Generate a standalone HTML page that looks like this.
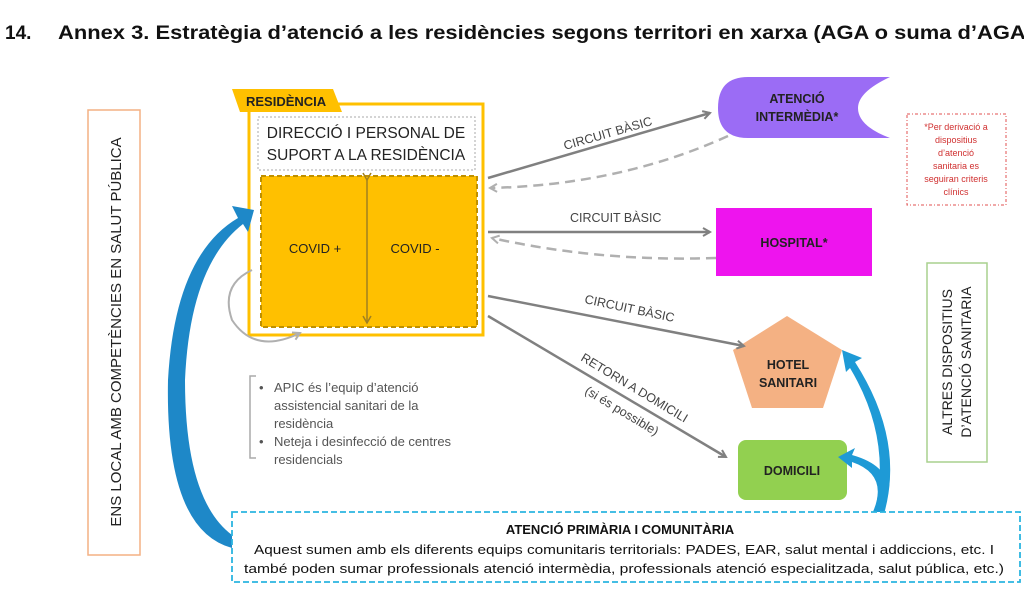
<!DOCTYPE html>
<html><head><meta charset="utf-8"><style>
html,body{margin:0;padding:0;background:#fff;}
svg{display:block;font-family:"Liberation Sans",sans-serif;}
.c{font-family:"Liberation Sans",sans-serif;}
</style></head><body>
<svg width="1024" height="606" viewBox="0 0 1024 606" xmlns="http://www.w3.org/2000/svg">
<defs>
<marker id="ag" markerWidth="10" markerHeight="10" refX="8" refY="5" orient="auto" markerUnits="userSpaceOnUse"><path d="M1,1 L8,5 L1,9" fill="none" stroke="#808080" stroke-width="2"/></marker>
<marker id="al" markerWidth="10" markerHeight="10" refX="8" refY="5" orient="auto" markerUnits="userSpaceOnUse"><path d="M1,1 L8,5 L1,9" fill="none" stroke="#b0b0b0" stroke-width="2"/></marker>
<marker id="ad" markerWidth="10" markerHeight="10" refX="8" refY="5" orient="auto" markerUnits="userSpaceOnUse"><path d="M1,1 L8,5 L1,9" fill="none" stroke="#a08020" stroke-width="1.5"/></marker>
</defs>
<text x="5" y="39" font-size="19" font-weight="bold" fill="#111">14.</text>
<text x="58" y="39" font-size="19" font-weight="bold" fill="#111" textLength="975" lengthAdjust="spacingAndGlyphs">Annex 3. Estratègia d’atenció a les residències segons territori en xarxa (AGA o suma d’AGA)</text>

<!-- left vertical box -->
<rect x="88" y="110" width="52" height="445" fill="#fff" stroke="#F4B183" stroke-width="1.5"/>
<text transform="translate(121,332) rotate(-90)" text-anchor="middle" font-size="15" fill="#222">ENS LOCAL AMB COMPETÈNCIES EN SALUT PÚBLICA</text>

<!-- residencia -->
<rect x="249" y="104" width="234" height="231" fill="#fff" stroke="#FFC000" stroke-width="3"/>
<polygon points="232,89 333,89 342,112 240,112" fill="#FFC000"/>
<text x="246" y="106" font-size="13" font-weight="bold" fill="#222">RESIDÈNCIA</text>
<rect x="258" y="117" width="217" height="53" fill="#fff" stroke="#aaa" stroke-width="1" stroke-dasharray="2,2"/>
<text x="366" y="138" text-anchor="middle" font-size="15.5" fill="#222">DIRECCIÓ I PERSONAL DE</text>
<text x="366" y="160" text-anchor="middle" font-size="15.5" fill="#222">SUPORT A LA RESIDÈNCIA</text>
<rect x="261" y="176" width="216" height="151" fill="#FFC000" stroke="#BF9000" stroke-width="2" stroke-dasharray="5,3"/>
<line x1="367" y1="180" x2="367" y2="323" stroke="#a08020" stroke-width="1.5" marker-start="url(#ad)" marker-end="url(#ad)"/>
<text x="315" y="253" text-anchor="middle" font-size="13" fill="#222">COVID +</text>
<text x="415" y="253" text-anchor="middle" font-size="13" fill="#222">COVID -</text>

<!-- right nodes -->
<path d="M748,77 L890,77 Q858,92 858,108 Q858,126 890,138 L748,138 Q718,138 718,108 Q718,77 748,77 Z" fill="#9B6CF5"/>
<text x="797" y="103" text-anchor="middle" font-size="12.5" font-weight="bold" fill="#222">ATENCIÓ</text>
<text x="797" y="121" text-anchor="middle" font-size="12.5" font-weight="bold" fill="#222">INTERMÈDIA*</text>
<rect x="716" y="208" width="156" height="68" fill="#EE14EE"/>
<text x="794" y="247" text-anchor="middle" font-size="12.5" font-weight="bold" fill="#222">HOSPITAL*</text>
<rect x="907" y="114" width="99" height="91" fill="#fff" stroke="#e05050" stroke-width="1" stroke-dasharray="3,2,1,2"/>
<g font-size="9" fill="#d03030" text-anchor="middle">
<text x="956" y="130">*Per derivació a</text><text x="956" y="143">dispositius</text><text x="956" y="156">d’atenció</text><text x="956" y="169">sanitaria es</text><text x="956" y="182">seguiran criteris</text><text x="956" y="195">clínics</text></g>
<rect x="927" y="263" width="60" height="199" fill="#fff" stroke="#A9D18E" stroke-width="1.5"/>
<text transform="translate(952,362) rotate(-90)" text-anchor="middle" font-size="14" fill="#222">ALTRES DISPOSITIUS</text>
<text transform="translate(971,362) rotate(-90)" text-anchor="middle" font-size="14" fill="#222">D’ATENCIÓ SANITARIA</text>
<polygon points="787,316 842,350 823,408 752,408 733,350" fill="#F4B183"/>
<text x="788" y="369" text-anchor="middle" font-size="12.5" font-weight="bold" fill="#222">HOTEL</text>
<text x="788" y="387" text-anchor="middle" font-size="12.5" font-weight="bold" fill="#222">SANITARI</text>
<rect x="738" y="440" width="109" height="60" rx="8" fill="#92D050"/>
<text x="792" y="475" text-anchor="middle" font-size="12.5" font-weight="bold" fill="#222">DOMICILI</text>

<!-- connectors -->
<g stroke="#808080" stroke-width="2.5" fill="none">
<line x1="488" y1="178" x2="710" y2="113" marker-end="url(#ag)"/>
<line x1="488" y1="232" x2="710" y2="232" marker-end="url(#ag)"/>
<line x1="488" y1="296" x2="744" y2="346" marker-end="url(#ag)"/>
<line x1="488" y1="316" x2="726" y2="457" marker-end="url(#ag)"/>
</g>
<g stroke="#b0b0b0" stroke-width="2.5" fill="none" stroke-dasharray="10,6">
<path d="M728,136 Q620,185 490,188" marker-end="url(#al)"/>
<path d="M716,258 Q600,262 492,238" marker-end="url(#al)"/>
</g>
<g fill="#444" font-size="12.5">
<text transform="translate(565,150) rotate(-16)">CIRCUIT BÀSIC</text>
<text x="570" y="222">CIRCUIT BÀSIC</text>
<text transform="translate(584,303) rotate(12)">CIRCUIT BÀSIC</text>
<text transform="translate(580,360) rotate(31)">RETORN A DOMICILI</text>
<text transform="translate(584,393) rotate(31)">(si és possible)</text>
</g>
<path d="M252,270 Q220,285 232,320 Q255,355 300,333" fill="none" stroke="#b0b0b0" stroke-width="2" marker-end="url(#al)"/>

<!-- bullet list -->
<path d="M256,376 L250,376 L250,458 L256,458" fill="none" stroke="#aaa" stroke-width="1.5"/>
<g font-size="13" fill="#555">
<text x="259" y="392">•</text><text x="274" y="392">APIC és l’equip d’atenció</text>
<text x="274" y="410">assistencial sanitari de la</text>
<text x="274" y="428">residència</text>
<text x="259" y="446">•</text><text x="274" y="446">Neteja i desinfecció de centres</text>
<text x="274" y="464">residencials</text></g>

<!-- blue arrows -->
<path d="M232,548 Q165,530 168,380 Q175,255 238,218 L232,206 L254,210 L248,232 L243,224 Q190,265 185,380 Q185,500 232,535 Z" fill="#1E88C8"/>
<path d="M884,514 Q905,440 855,362 L862,358 L842,350 L846,372 L850,368 Q893,440 874,514 Z" fill="#1E9AD6"/>
<path d="M880,516 Q905,470 852,455 L855,448 L838,457 L852,468 L852,462 Q890,475 872,514 Z" fill="#1E9AD6"/>

<!-- bottom box -->
<rect x="232" y="512" width="788" height="70" fill="#fff" stroke="#2BB5E0" stroke-width="1.8" stroke-dasharray="6,3"/>
<text x="620" y="534" text-anchor="middle" font-size="13" font-weight="bold" fill="#111">ATENCIÓ PRIMÀRIA I COMUNITÀRIA</text>
<text x="624" y="554" text-anchor="middle" font-size="13" fill="#111" textLength="740" lengthAdjust="spacingAndGlyphs">Aquest sumen amb els diferents equips comunitaris territorials: PADES, EAR, salut mental i addiccions, etc. I</text>
<text x="624" y="573" text-anchor="middle" font-size="13" fill="#111" textLength="760" lengthAdjust="spacingAndGlyphs">també poden sumar professionals atenció intermèdia, professionals atenció especialitzada, salut pública, etc.)</text>
</svg>
</body></html>
